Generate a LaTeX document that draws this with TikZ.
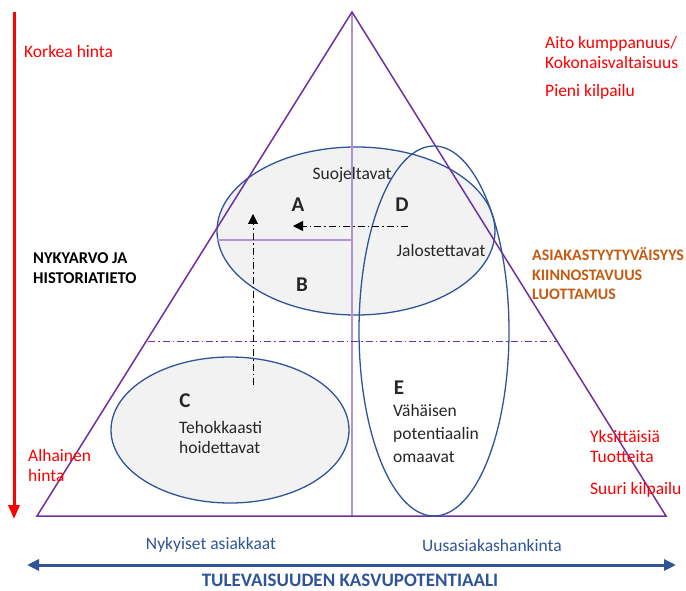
\documentclass[tikz,border=0pt]{standalone}
\usepackage{fontspec}
\setmainfont{Carlito}
\usetikzlibrary{positioning}
\usetikzlibrary{arrows.meta}
\usetikzlibrary{shapes.geometric}
\tikzset{
  font={\fontsize{17.5pt}{20pt}\selectfont}
}
\definecolor{triColor}{HTML}{7030A0}
\definecolor{gridColor}{HTML}{B391D3}
\definecolor{ovalColor}{HTML}{2F5597}
\definecolor{ovalFill}{HTML}{F2F2F2}
\definecolor{priceRed}{HTML}{FF0000}
\definecolor{trustOrange}{HTML}{C55A11}
\definecolor{axisBlue}{HTML}{2F5597}
\definecolor{textGray}{HTML}{262626}
\def\lineWidth{1.5pt}
\tikzstyle{oval}=[ellipse,draw=ovalColor,line width=1.3pt,inner sep=0pt]
\tikzstyle{grayOval}=[oval,fill=ovalFill]
\tikzstyle{triangleLine}=[draw=triColor,line width=\lineWidth,line join=miter]
\tikzstyle{gridLine}=[draw=gridColor,line width=1.2pt]
\tikzstyle{dashDot}=[dash pattern=on 7pt off 3pt on 1.5pt off 3pt]
\tikzstyle{moveArrow}=[dashDot,line width=0.8pt,draw=black,-{Triangle[length=10pt,width=10pt]}]
\tikzstyle{letter}=[font={\fontsize{21pt}{21}\bfseries\selectfont},text=textGray]
\tikzstyle{segText}=[text=textGray,align=left,anchor=west,inner sep=0pt]
\tikzstyle{redText}=[text=priceRed,align=left,anchor=west,inner sep=0pt]
\tikzstyle{orangeText}=[text=trustOrange,align=left,anchor=west,inner sep=0pt,font={\fontsize{16pt}{19.5pt}\bfseries\selectfont}]
\tikzstyle{axisText}=[text=axisBlue,inner sep=0pt]

\begin{document}
\begin{tikzpicture}[x=1pt,y=-1pt]
    \useasboundingbox (0,0) rectangle (686,591);

    % ovals with fill
    \node[grayOval,minimum width=278pt,minimum height=168pt] (ovalAB) at (356,231) {};
    \node[grayOval,minimum width=238pt,minimum height=146pt] (ovalC) at (230,430) {};

    % triangle and grid
    \coordinate (apex) at (352,12);
    \coordinate (baseL) at (37,516);
    \coordinate (baseR) at (666,516);
    \coordinate (baseMid) at (352,516);
    \coordinate (gridL) at (217,240);
    \coordinate (gridC) at (352,240);
    \coordinate (midL) at (148,341);
    \coordinate (midR) at (557,341);
    \draw[gridLine] (apex) -- (baseMid);
    \draw[gridLine] (gridL) -- (gridC);
    \draw[triangleLine,dashDot,line width=1pt] (midL) -- (midR);
    \draw[triangleLine] (apex) -- (baseL) -- (baseR) -- cycle;

    % tall oval D/E
    \node[oval,minimum width=150pt,minimum height=370pt] (ovalDE) at (434,331) {};

    % movement arrows
    \coordinate (fromC) at (253,385);
    \coordinate (toA) at (253,214);
    \coordinate (fromD) at (408,226);
    \coordinate (toAx) at (293,226);
    \draw[moveArrow] (fromC) -- (toA);
    \draw[moveArrow] (fromD) -- (toAx);

    % segment labels
    \node[text=textGray] (suoj) at (352,175) {Suojeltavat};
    \node[letter] (segA) at (298,205) {A};
    \node[letter] (segD) at (402,205) {D};
    \node[text=textGray] (jalo) at (441,250) {Jalostettavat};
    \node[letter] (segB) at (302,285) {B};
    \node[letter] (segC) at (185,401) {C};
    \node[segText] (tehok) at (179,437) {Tehokkaasti\\hoidettavat};
    \node[letter] (segE) at (399,388) {E};
    \node[segText,align=left] (vahai) at (393,433) {Vähäisen\\[3pt]potentiaalin\\[3pt]omaavat};

    % price axis
    \coordinate (priceTop) at (14,12);
    \coordinate (priceBottom) at (14,519);
    \draw[priceRed,line width=3pt,-{Triangle[length=14pt,width=11pt]}] (priceTop) -- (priceBottom);
    \node[redText] (korkea) at (24,51) {Korkea hinta};
    \node[redText] (alhainen) at (28,465) {Alhainen\\hinta};
    \node[segText,font={\fontsize{16.5pt}{20pt}\bfseries\selectfont},text=black] (nykyarvo) at (33,268) {NYKYARVO JA\\HISTORIATIETO};

    % right side labels
    \node[redText] (aito) at (545,52) {Aito kumppanuus/\\Kokonaisvaltaisuus};
    \node[redText] (pieni) at (545,92) {Pieni kilpailu};
    \node[orangeText] (asiakas) at (532,274) {ASIAKASTYYTYVÄISYYS\\KIINNOSTAVUUS\\LUOTTAMUS};
    \node[redText] (yksitt) at (590,446) {Yksittäisiä\\Tuotteita};
    \node[redText] (suuri) at (590,490) {Suuri kilpailu};

    % growth axis
    \node[axisText] (nykyiset) at (211,545) {Nykyiset asiakkaat};
    \node[axisText] (uusasiakas) at (492,545) {Uusasiakashankinta};
    \coordinate (growthL) at (27,565);
    \coordinate (growthR) at (676,565);
    \draw[axisBlue,line width=3pt,{Triangle[length=12pt,width=11pt]}-{Triangle[length=12pt,width=11pt]}] (growthL) -- (growthR);
    \node[axisText,font={\fontsize{19pt}{20}\bfseries\selectfont}] (tuleva) at (350,580) {TULEVAISUUDEN KASVUPOTENTIAALI};
\end{tikzpicture}
\end{document}
